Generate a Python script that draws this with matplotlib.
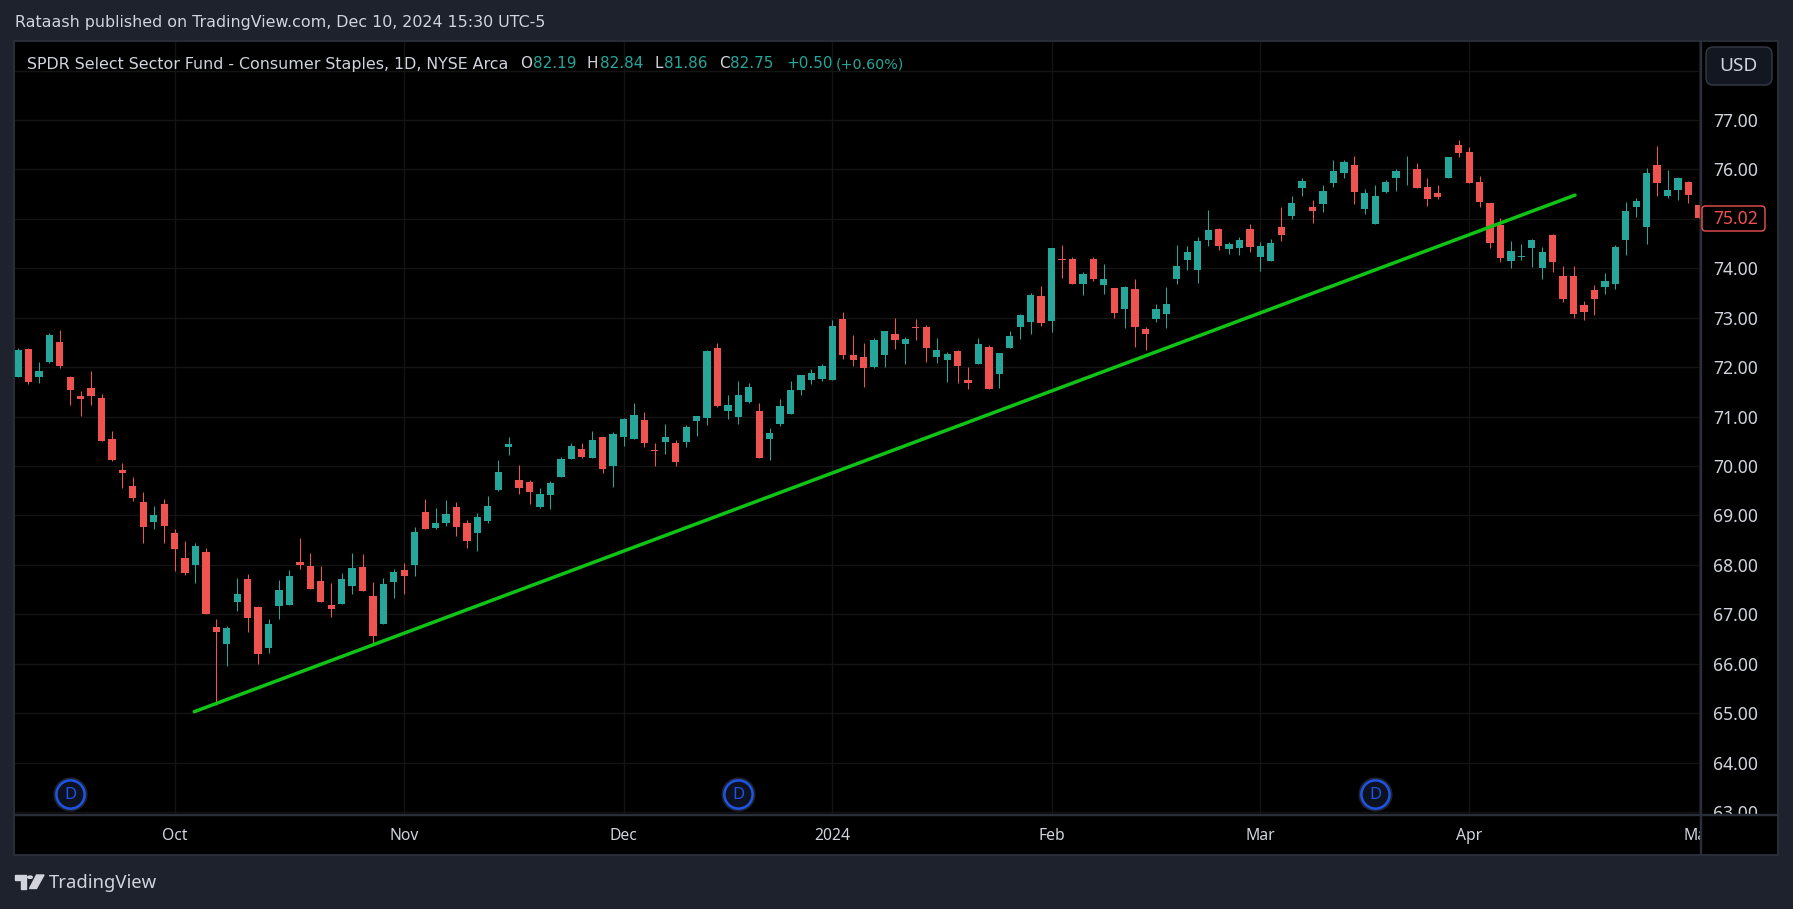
import matplotlib
matplotlib.use("Agg")
import matplotlib.pyplot as plt
from matplotlib.patches import Rectangle, FancyBboxPatch, Polygon, Circle

W, H = 1793, 909

# candles, one entry per trading day
opens = [71.80, 72.37, 71.81, 72.11, 72.50, 71.81, 71.42, 71.57, 71.38, 70.55,
         69.92, 69.60, 69.28, 68.87, 69.24, 68.65, 68.14, 68.00, 68.26, 66.74,
         66.40, 67.25, 67.71, 67.15, 66.31, 67.17, 67.19, 68.06, 67.98, 67.67,
         67.19, 67.21, 67.57, 67.96, 67.37, 66.80, 67.65, 67.90, 68.00, 69.07,
         68.75, 68.85, 69.17, 68.84, 68.64, 68.89, 69.52, 70.39, 69.72, 69.68,
         69.17, 69.42, 69.78, 70.15, 70.35, 70.17, 70.59, 70.00, 70.59, 70.55,
         70.94, 70.33, 70.49, 70.47, 70.49, 70.92, 70.98, 72.38, 71.12, 71.00,
         71.30, 71.12, 70.55, 70.84, 71.06, 71.53, 71.73, 71.77, 71.75, 72.98,
         72.24, 72.21, 72.01, 72.25, 72.67, 72.47, 72.82, 72.82, 72.21, 72.15,
         72.33, 71.74, 72.07, 72.41, 71.86, 72.39, 72.82, 72.92, 73.44, 72.94,
         74.19, 74.19, 73.69, 74.19, 73.67, 73.61, 73.18, 73.59, 72.78, 72.98,
         73.08, 73.79, 74.17, 73.97, 74.58, 74.80, 74.40, 74.42, 74.80, 74.23,
         74.15, 74.84, 75.05, 75.63, 75.25, 75.31, 75.73, 75.93, 76.09, 75.19,
         74.89, 75.55, 75.83, 76.00, 76.01, 75.65, 75.53, 75.83, 76.50, 76.36,
         75.75, 75.33, 74.87, 74.14, 74.23, 74.42, 74.00, 74.68, 73.84, 73.84,
         73.26, 73.56, 73.62, 73.68, 74.58, 75.25, 74.83, 76.09, 75.47, 75.59,
         75.75, 75.29]
highs = [72.39, 72.39, 72.11, 72.70, 72.76, 71.83, 71.51, 71.93, 71.46, 70.71,
         70.07, 69.78, 69.48, 69.19, 69.34, 68.73, 68.48, 68.44, 68.34, 66.90,
         66.76, 67.73, 67.82, 67.17, 66.90, 67.69, 67.90, 68.55, 68.24, 67.98,
         67.63, 67.84, 68.24, 68.22, 67.65, 67.73, 67.92, 68.04, 68.77, 69.34,
         69.15, 69.32, 69.27, 68.91, 69.05, 69.39, 70.13, 70.59, 70.03, 69.72,
         69.56, 69.70, 70.19, 70.47, 70.47, 70.71, 70.59, 70.69, 70.98, 71.28,
         71.10, 70.47, 70.84, 70.53, 70.82, 71.02, 72.34, 72.48, 71.44, 71.71,
         71.67, 71.28, 70.76, 71.36, 71.71, 71.85, 71.97, 72.07, 72.96, 73.11,
         72.66, 72.48, 72.58, 72.74, 73.00, 72.61, 72.98, 72.86, 72.59, 72.31,
         72.35, 72.00, 72.59, 72.45, 72.29, 72.73, 73.08, 73.50, 73.65, 74.42,
         74.48, 74.23, 73.93, 74.23, 74.09, 73.61, 73.65, 73.79, 72.82, 73.28,
         73.63, 74.48, 74.46, 74.64, 75.17, 74.82, 74.54, 74.64, 74.90, 74.54,
         74.60, 75.23, 75.47, 75.83, 75.39, 75.69, 76.19, 76.19, 76.28, 75.61,
         75.69, 75.79, 76.01, 76.28, 76.13, 75.83, 75.69, 76.26, 76.60, 76.46,
         75.87, 75.33, 75.01, 74.56, 74.50, 74.60, 74.44, 74.70, 74.04, 74.04,
         73.34, 73.66, 73.90, 74.48, 75.35, 75.43, 76.03, 76.48, 75.99, 75.85,
         75.77, 75.29]
lows = [71.80, 71.65, 71.67, 72.09, 71.99, 71.24, 71.02, 71.24, 70.51, 70.11,
        69.56, 69.30, 68.44, 68.73, 68.44, 67.88, 67.80, 67.63, 67.00, 65.16,
        65.95, 67.07, 66.64, 65.99, 66.21, 66.90, 67.19, 67.92, 67.51, 67.25,
        66.94, 67.21, 67.41, 67.47, 66.38, 66.80, 67.33, 67.41, 67.78, 68.73,
        68.73, 68.79, 68.58, 68.34, 68.28, 68.85, 69.50, 70.23, 69.44, 69.24,
        69.15, 69.13, 69.78, 70.15, 70.17, 70.17, 69.86, 69.58, 70.41, 70.55,
        70.39, 70.00, 70.25, 70.00, 70.39, 70.61, 70.82, 71.20, 70.96, 70.86,
        71.28, 70.17, 70.13, 70.80, 71.06, 71.44, 71.65, 71.71, 71.75, 72.17,
        72.03, 71.59, 71.99, 72.01, 72.37, 72.07, 72.55, 72.11, 72.09, 71.70,
        71.68, 71.56, 72.07, 71.56, 71.58, 72.39, 72.57, 72.67, 72.84, 72.71,
        73.81, 73.69, 73.46, 73.75, 73.48, 73.00, 72.80, 72.41, 72.35, 72.92,
        72.80, 73.69, 73.97, 73.71, 74.46, 74.38, 74.28, 74.26, 74.32, 73.95,
        74.15, 74.56, 74.99, 75.47, 74.91, 75.13, 75.65, 75.83, 75.31, 75.09,
        74.89, 75.53, 75.57, 75.69, 75.63, 75.27, 75.41, 75.83, 76.26, 75.73,
        75.25, 74.42, 74.12, 74.00, 74.16, 74.02, 73.78, 73.92, 73.32, 72.99,
        72.95, 73.05, 73.48, 73.58, 74.26, 75.03, 74.50, 75.47, 75.43, 75.39,
        75.33, 75.01]
closes = [72.34, 71.69, 71.93, 72.66, 72.03, 71.53, 71.36, 71.42, 70.51, 70.13,
          69.86, 69.36, 68.77, 69.01, 68.79, 68.32, 67.84, 68.38, 67.00, 66.64,
          66.72, 67.41, 66.92, 66.19, 66.80, 67.49, 67.78, 68.00, 67.51, 67.25,
          67.11, 67.71, 67.94, 67.47, 66.56, 67.61, 67.86, 67.78, 68.67, 68.73,
          68.85, 69.03, 68.76, 68.48, 68.97, 69.19, 69.88, 70.45, 69.56, 69.48,
          69.44, 69.66, 70.15, 70.41, 70.19, 70.53, 69.94, 70.65, 70.96, 71.04,
          70.47, 70.31, 70.59, 70.09, 70.78, 71.02, 72.32, 71.22, 71.24, 71.44,
          71.59, 70.17, 70.67, 71.22, 71.53, 71.85, 71.89, 72.03, 72.84, 72.25,
          72.15, 71.99, 72.54, 72.74, 72.55, 72.57, 72.80, 72.39, 72.35, 72.27,
          72.02, 71.68, 72.47, 71.56, 72.29, 72.63, 73.06, 73.46, 72.90, 74.42,
          74.17, 73.69, 73.89, 73.79, 73.79, 73.10, 73.63, 72.82, 72.67, 73.18,
          73.28, 74.05, 74.32, 74.56, 74.78, 74.46, 74.50, 74.58, 74.44, 74.46,
          74.52, 74.68, 75.33, 75.77, 75.15, 75.57, 75.97, 76.15, 75.55, 75.53,
          75.47, 75.75, 75.97, 76.01, 75.63, 75.41, 75.45, 76.26, 76.34, 75.73,
          75.35, 74.52, 74.20, 74.34, 74.24, 74.58, 74.32, 74.12, 73.38, 73.07,
          73.11, 73.38, 73.74, 74.44, 75.15, 75.37, 75.93, 75.73, 75.59, 75.83,
          75.49, 75.02]

price_ticks = [63, 64, 65, 66, 67, 68, 69, 70, 71, 72, 73, 74, 75, 76, 77, 78]
hidden_ticks = [75, 78]  # covered by the last price tag and the USD button
month_bars = [15, 37, 58, 78, 99, 119, 139, 161]
month_labels = ["Oct", "Nov", "Dec", "2024", "Feb", "Mar", "Apr", "May"]
dividend_bars = [5, 69, 130]
trend_bars = [16.89, 149.14]
trend_prices = [65.03, 75.48]
last_price = 75.02

BG = "#1e222d"
FRAME = "#2a2e39"
GRID = "#141414"
UP = "#26a69a"
DOWN = "#ef5350"
TXT = "#d1d4dc"
FONT = "Noto Sans"
HEAD = "DejaVu Sans"
plt.rcParams["font.family"] = FONT


def box(x0, y0, x1, y1):
    # pixel box (top left origin) to figure fractions
    return [x0 / W, 1 - y1 / H, (x1 - x0) / W, (y1 - y0) / H]


def ftext(x, y, s, size=14, color=TXT, ha="left", family=FONT, **kw):
    fig.text(x / W, 1 - y / H, s, fontsize=size * 0.72, color=color, ha=ha, va="center",
             family=family, **kw)


fig = plt.figure(figsize=(W / 100, H / 100), dpi=100, facecolor=BG)

# black panel behind the pane and both scales
panel = fig.add_axes(box(14, 41, 1778, 855), facecolor="black", zorder=0)
panel.set_xticks([])
panel.set_yticks([])
for s in panel.spines.values():
    s.set_color(FRAME)
    s.set_linewidth(1.4)

ax = fig.add_axes(box(15, 42, 1700, 814), facecolor="black", zorder=1)
ax.set_xlim((15 - 18) / 10.44, (1700 - 18) / 10.44)
ax.set_ylim(77 - (814 - 120) / 49.43, 77 + (120 - 42) / 49.43)
for s in ax.spines.values():
    s.set_visible(False)
ax.set_xticks(month_bars)
ax.set_xticklabels([])
ax.set_yticks(price_ticks)
ax.set_yticklabels(["" if p in hidden_ticks else "%.2f" % p for p in price_ticks],
                   color=TXT, fontsize=12.6, family=FONT)
ax.yaxis.tick_right()
ax.tick_params(length=0, pad=9.6)
ax.grid(True, color=GRID, linewidth=1.0)
ax.set_axisbelow(True)

for i in range(len(opens)):
    col = UP if closes[i] >= opens[i] else DOWN
    ax.vlines(i, lows[i], highs[i], color=col, linewidth=0.75, zorder=2)
    ax.bar(i, abs(closes[i] - opens[i]), bottom=min(opens[i], closes[i]), width=0.7,
           color=col, linewidth=0, zorder=3)

ax.plot(trend_bars, trend_prices, color="#10c415", linewidth=2.5, zorder=4,
        solid_capstyle="round")

# dividend markers sit near the bottom of the pane
div_y = [77 - (794.3 - 120) / 49.43] * len(dividend_bars)
ax.scatter(dividend_bars, div_y, s=510, facecolor="#101a33", edgecolor="#1e222d", linewidth=2, zorder=5)
ax.scatter(dividend_bars, div_y, s=412, facecolor="#0c1220", edgecolor="#1e53e5", linewidth=1.8, zorder=6)
for b, y in zip(dividend_bars, div_y):
    ax.text(b, y - 0.01, "D", color="#1e53e5", fontsize=12, ha="center", va="center", zorder=7, family=FONT)

# time scale covers the lower half of the 63.00 label
ax_time = fig.add_axes(box(15, 814, 1700, 854), facecolor="black", zorder=3)
ax_time.set_xlim(ax.get_xlim())
ax_time.set_ylim(0, 1)
ax_time.set_yticks([])
ax_time.set_xticks([])
for s in ax_time.spines.values():
    s.set_visible(False)
for b, lab in zip(month_bars, month_labels):
    ax_time.text(b, 0.45, lab, color=TXT, fontsize=11.3, ha="center", va="center", family=FONT,
                 fontweight="bold" if lab == "2024" else "normal", clip_on=True)

corner = fig.add_axes(box(1700, 814, 1777, 854), facecolor="black", zorder=3)
corner.set_xticks([])
corner.set_yticks([])
for s in corner.spines.values():
    s.set_visible(False)

# scale separators, figure level so they stay above the panes
for art in [Rectangle((1700 / W, 1 - 855 / H), 1 / W, 814 / H, transform=fig.transFigure, color=FRAME, zorder=10),
            Rectangle((14 / W, 1 - 815 / H), 1764 / W, 1 / H, transform=fig.transFigure, color=FRAME, zorder=10)]:
    fig.add_artist(art)

# last price label
fig.add_artist(FancyBboxPatch((1702 / W, 1 - 231 / H), 63 / W, 25 / H, transform=fig.transFigure,
                              boxstyle="round,pad=0,rounding_size=0.002", facecolor="black",
                              edgecolor=DOWN, linewidth=1, zorder=11, mutation_aspect=2))
ftext(1736, 218.6, "%.2f" % last_price, size=17.5, color=DOWN, ha="center", zorder=12)

# USD button
fig.add_artist(FancyBboxPatch((1706 / W, 1 - 85 / H), 66 / W, 38 / H, transform=fig.transFigure,
                              boxstyle="round,pad=0,rounding_size=0.004", facecolor="#131722",
                              edgecolor="#363a45", linewidth=1, zorder=11, mutation_aspect=2))
ftext(1738, 65.7, "USD", size=19, ha="center", zorder=12)

# header, legend
ftext(15, 23, "Rataash published on TradingView.com, Dec 10, 2024 15:30 UTC-5", size=15.9, zorder=12, family=HEAD)
ftext(27, 64, "SPDR Select Sector Fund - Consumer Staples, 1D, NYSE Arca", size=15.9, zorder=12, family=HEAD)
for x, s, c, sz in [(520, "O", TXT, 15.2), (533, "82.19", UP, 15.2), (587, "H", TXT, 15.2), (600, "82.84", UP, 15.2),
                    (655, "L", TXT, 15.2), (664, "81.86", UP, 15.2), (719, "C", TXT, 15.2), (730, "82.75", UP, 15.2),
                    (786, "+0.50", UP, 15.2), (836, "(+0.60%)", UP, 14.3)]:
    ftext(x, 64, s, size=sz, color=c, zorder=12, family=HEAD)

# footer logo
LOGO = "#d1d4dc"
fig.add_artist(Polygon([(p[0] / W, 1 - p[1] / H) for p in
                        [(15, 875), (26, 875), (26, 888.5), (20.5, 888.5), (20.5, 879.5), (15, 879.5)]],
                       transform=fig.transFigure, color=LOGO, zorder=12))
fig.add_artist(Circle((30 / W, 1 - 877.2 / H), 2.3 / W, transform=fig.transFigure, color=LOGO, zorder=12))
fig.add_artist(Polygon([(p[0] / W, 1 - p[1] / H) for p in
                        [(36.5, 875), (44, 875), (36.5, 888.5), (29.5, 888.5)]],
                       transform=fig.transFigure, color=LOGO, zorder=12))
ftext(49, 883.5, "TradingView", size=18.5, zorder=12)

fig.savefig("out.png", dpi=100, facecolor=BG)
